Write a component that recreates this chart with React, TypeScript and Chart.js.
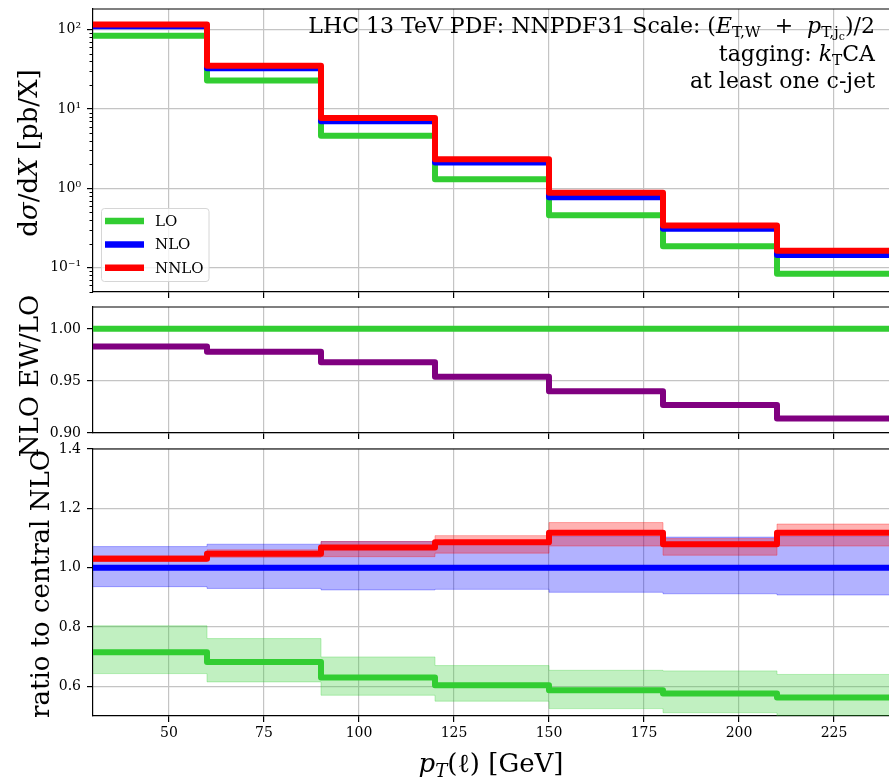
import React, { useEffect, useRef } from 'react';
import { Chart, registerables } from 'chart.js';

Chart.register(...registerables);

// ---------------- data ----------------
const binEdges = [30, 60, 90, 120, 150, 180, 210, 240];
const xTickValues = [50, 75, 100, 125, 150, 175, 200, 225];

// top panel: dsigma/dX [pb/X]
const xsecLO = [84, 22.8, 4.6, 1.3, 0.457, 0.186, 0.084];
const xsecNLO = [110, 32.5, 7.0, 2.12, 0.77, 0.31, 0.145];
const xsecNNLO = [116, 35.1, 7.7, 2.32, 0.88, 0.341, 0.164];
const logMajorTicks = [0.1, 1, 10, 100];
const logTickLabels = ['10⁻¹', '10⁰', '10¹', '10²'];
const logDecades = [0.01, 0.1, 1, 10, 100];
const logMinorMultipliers = [2, 3, 4, 5, 6, 7, 8, 9];

// middle panel: NLO EW / LO
const ewLO = [1, 1, 1, 1, 1, 1, 1];
const ewNLO = [0.983, 0.978, 0.968, 0.954, 0.94, 0.927, 0.914];
const ewTicks = [0.9, 0.95, 1.0];
const ewTickLabels = ['0.90', '0.95', '1.00'];

// bottom panel: ratio to central NLO
const ratioLO = [0.715, 0.682, 0.63, 0.604, 0.587, 0.576, 0.562];
const ratioLOUp = [0.804, 0.761, 0.699, 0.67, 0.654, 0.652, 0.64];
const ratioLODown = [0.643, 0.615, 0.57, 0.55, 0.525, 0.511, 0.49];
const ratioNLO = [1, 1, 1, 1, 1, 1, 1];
const ratioNLOUp = [1.071, 1.079, 1.088, 1.09, 1.105, 1.103, 1.105];
const ratioNLODown = [0.936, 0.93, 0.925, 0.927, 0.917, 0.912, 0.908];
const ratioNNLO = [1.03, 1.047, 1.068, 1.086, 1.118, 1.079, 1.118];
const ratioNNLOUp = [1.04, 1.06, 1.088, 1.108, 1.152, 1.098, 1.147];
const ratioNNLODown = [1.022, 1.035, 1.037, 1.049, 1.073, 1.042, 1.073];
const ratioTicks = [0.6, 0.8, 1.0, 1.2, 1.4];
const ratioTickLabels = ['0.6', '0.8', '1.0', '1.2', '1.4'];

const seriesNames = ['LO', 'NLO', 'NNLO'];

// ---------------- style ----------------
const FONT = '"DejaVu Serif", serif';
const GREEN = '#32cd32';
const BLUE = '#0000ff';
const RED = '#ff0000';
const PURPLE = '#800080';
const GRID = '#c4c4c4';
const CANVAS_W = 900;
const CANVAS_H = 780;
const Y_AXIS_W = 93;
const PAD_RIGHT = 9;

type Seg = { t: string; it?: boolean; sub?: number };

const annotationLines: Seg[][] = [
  [
    { t: 'LHC 13 TeV PDF: NNPDF31 Scale: (' },
    { t: 'E', it: true },
    { t: 'T,W', sub: 1 },
    { t: '  +  ' },
    { t: 'p', it: true },
    { t: 'T,j', sub: 1 },
    { t: 'c', sub: 2 },
    { t: ')/2' },
  ],
  [{ t: 'tagging: ' }, { t: 'k', it: true }, { t: 'T', sub: 1 }, { t: 'CA' }],
  [{ t: 'at least one c-jet' }],
];
const topYTitle: Seg[] = [
  { t: 'd' },
  { t: 'σ', it: true },
  { t: '/d' },
  { t: 'X', it: true },
  { t: ' [pb/X]' },
];
const midYTitle: Seg[] = [{ t: 'NLO EW/LO' }];
const botYTitle: Seg[] = [{ t: 'ratio to central NLO' }];
const xTitle: Seg[] = [
  { t: 'p', it: true },
  { t: 'T', it: true, sub: 1 },
  { t: '(ℓ) [GeV]' },
];

function stepPoints(values: number[]) {
  return binEdges.map((x, i) => ({ x, y: values[Math.min(i, values.length - 1)] }));
}

function drawRich(ctx: CanvasRenderingContext2D, segs: Seg[], x: number, y: number, size: number, align: string) {
  const fontFor = (s: Seg) =>
    `${s.it ? 'italic ' : ''}${size * (s.sub === 1 ? 0.7 : s.sub === 2 ? 0.5 : 1)}px ${FONT}`;
  let total = 0;
  const widths = segs.map((s) => {
    ctx.font = fontFor(s);
    const w = ctx.measureText(s.t).width;
    total += w;
    return w;
  });
  let cx = align === 'right' ? x - total : align === 'center' ? x - total / 2 : x;
  ctx.textAlign = 'left';
  ctx.textBaseline = 'alphabetic';
  segs.forEach((s, i) => {
    ctx.font = fontFor(s);
    const dy = s.sub === 1 ? 0.2 * size : s.sub === 2 ? 0.34 * size : 0;
    ctx.fillText(s.t, cx, y + dy);
    cx += widths[i];
  });
}

const decorPlugin = {
  id: 'panelDecor',
  afterDraw(chart: any, _args: any, opts: any) {
    const { ctx, chartArea: a } = chart;
    ctx.save();
    ctx.strokeStyle = '#000';
    ctx.lineWidth = 1.2;
    ctx.beginPath();
    ctx.moveTo(a.left, a.top);
    ctx.lineTo(a.right, a.top);
    ctx.lineTo(a.right, a.bottom);
    ctx.stroke();

    if (opts.minorTicks) {
      const ys = chart.scales.y;
      ctx.lineWidth = 1;
      opts.minorTicks.forEach((v: number) => {
        const p = Math.round(ys.getPixelForValue(v)) + 0.5;
        ctx.beginPath();
        ctx.moveTo(a.left - 3.5, p);
        ctx.lineTo(a.left, p);
        ctx.stroke();
      });
    }

    ctx.fillStyle = '#000';
    if (opts.yTitle) {
      ctx.save();
      ctx.translate(opts.yTitleX, opts.yTitleY);
      ctx.rotate(-Math.PI / 2);
      drawRich(ctx, opts.yTitle, 0, 0, 26, 'center');
      ctx.restore();
    }
    if (opts.annotation) {
      opts.annotation.forEach((line: Seg[], i: number) => {
        drawRich(ctx, line, 875, [33, 61, 88][i], 22, 'right');
      });
    }
    if (opts.legend) {
      const ds = chart.data.datasets;
      const bx = 101.5, by = 208.5, bw = 107.5, bh = 73, r = 3;
      ctx.beginPath();
      ctx.moveTo(bx + r, by);
      ctx.arcTo(bx + bw, by, bx + bw, by + bh, r);
      ctx.arcTo(bx + bw, by + bh, bx, by + bh, r);
      ctx.arcTo(bx, by + bh, bx, by, r);
      ctx.arcTo(bx, by, bx + bw, by, r);
      ctx.closePath();
      ctx.fillStyle = 'rgba(255,255,255,0.8)';
      ctx.fill();
      ctx.strokeStyle = '#d6d6d6';
      ctx.lineWidth = 1;
      ctx.stroke();
      seriesNames.forEach((name, i) => {
        const d = ds.find((q: any) => q.label === name);
        const y = 221 + i * 23.4;
        ctx.strokeStyle = d.borderColor;
        ctx.lineWidth = 6.5;
        ctx.beginPath();
        ctx.moveTo(105, y);
        ctx.lineTo(144, y);
        ctx.stroke();
        ctx.fillStyle = '#000';
        ctx.font = `15px ${FONT}`;
        ctx.textAlign = 'left';
        ctx.textBaseline = 'middle';
        ctx.fillText(name, 155, y + 1);
      });
    }
    if (opts.xTitle) {
      ctx.fillStyle = '#000';
      drawRich(ctx, opts.xTitle, 491, 772, 26, 'center');
    }
    ctx.restore();
  },
};

function xAxis(showLabels: boolean, height: number) {
  return {
    type: 'linear',
    min: binEdges[0],
    max: binEdges[binEdges.length - 1],
    afterBuildTicks: (s: any) => {
      s.ticks = xTickValues.map((v) => ({ value: v }));
    },
    afterFit: (s: any) => {
      s.height = height;
      s.paddingLeft = 0;
      s.paddingRight = 0;
    },
    grid: { color: GRID, lineWidth: 1.2, tickColor: '#000', tickLength: 6, tickWidth: 1.2 },
    border: { color: '#000', width: 1.2 },
    ticks: {
      display: showLabels,
      color: '#000',
      font: { size: 14, family: FONT },
      padding: 3,
      maxRotation: 0,
      autoSkip: false,
      callback: (v: number) => String(v),
    },
  };
}

function yAxis(type: string, min: number, max: number, ticks: number[], labels: string[]) {
  return {
    type,
    min,
    max,
    afterBuildTicks: (s: any) => {
      s.ticks = ticks.map((v) => ({ value: v }));
    },
    afterFit: (s: any) => {
      s.width = Y_AXIS_W;
      s.paddingTop = 0;
      s.paddingBottom = 0;
    },
    grid: { color: GRID, lineWidth: 1.2, tickColor: '#000', tickLength: 6, tickWidth: 1.2 },
    border: { color: '#000', width: 1.2 },
    ticks: {
      color: '#000',
      font: { size: 14, family: FONT },
      padding: 6,
      autoSkip: false,
      callback: (v: number) => {
        const i = ticks.findIndex((t) => Math.abs(t - v) < 1e-6 * Math.abs(t));
        return i >= 0 ? labels[i] : '';
      },
    },
  };
}

function line(label: string, values: number[], color: string, order: number, width = 6) {
  return {
    label,
    data: stepPoints(values),
    borderColor: color,
    backgroundColor: color,
    borderWidth: width,
    borderJoinStyle: 'round',
    stepped: true,
    pointRadius: 0,
    fill: false,
    order,
    clip: 0,
  };
}

function band(label: string, values: number[], rgb: string, order: number, fillTo: string | boolean) {
  return {
    label,
    data: stepPoints(values),
    borderColor: `rgba(${rgb},0.3)`,
    backgroundColor: `rgba(${rgb},0.3)`,
    borderWidth: 1,
    stepped: true,
    pointRadius: 0,
    fill: fillTo,
    order,
    clip: 0,
  };
}

function baseOptions(padTop: number, padBottom: number) {
  return {
    responsive: false,
    maintainAspectRatio: false,
    animation: false,
    events: [],
    layout: { padding: { left: 0, right: PAD_RIGHT, top: padTop, bottom: padBottom } },
  };
}

function topConfig(): any {
  const minor: number[] = [];
  logDecades.forEach((d) => logMinorMultipliers.forEach((m) => minor.push(d * m)));
  const yMin = 0.0494;
  const yMax = 182;
  return {
    type: 'line',
    data: {
      datasets: [
        line('LO', xsecLO, GREEN, 2),
        line('NLO', xsecNLO, BLUE, 1),
        line('NNLO', xsecNNLO, RED, 0),
      ],
    },
    options: {
      ...baseOptions(9, CANVAS_H - 292 - 8),
      scales: {
        x: xAxis(false, 8),
        y: yAxis('logarithmic', yMin, yMax, logMajorTicks, logTickLabels),
      },
      plugins: {
        legend: { display: false },
        tooltip: { enabled: false },
        panelDecor: {
          minorTicks: minor.filter((v) => v >= yMin && v <= yMax),
          yTitle: topYTitle,
          yTitleX: 37,
          yTitleY: 153,
          annotation: annotationLines,
          legend: true,
        },
      },
    },
    plugins: [decorPlugin],
  };
}

function midConfig(): any {
  return {
    type: 'line',
    data: {
      datasets: [line('LO', ewLO, GREEN, 1), line('NLO EW', ewNLO, PURPLE, 0)],
    },
    options: {
      ...baseOptions(307, CANVAS_H - 433 - 8),
      scales: {
        x: xAxis(false, 8),
        y: yAxis('linear', 0.9, 1.021, ewTicks, ewTickLabels),
      },
      plugins: {
        legend: { display: false },
        tooltip: { enabled: false },
        panelDecor: { yTitle: midYTitle, yTitleX: 38, yTitleY: 376 },
      },
    },
    plugins: [decorPlugin],
  };
}

function botConfig(): any {
  return {
    type: 'line',
    data: {
      datasets: [
        band('LO up', ratioLOUp, '50,205,50', 5, '+1'),
        band('LO down', ratioLODown, '50,205,50', 5, false),
        band('NLO up', ratioNLOUp, '0,0,255', 4, '+1'),
        band('NLO down', ratioNLODown, '0,0,255', 4, false),
        band('NNLO up', ratioNNLOUp, '255,0,0', 3, '+1'),
        band('NNLO down', ratioNNLODown, '255,0,0', 3, false),
        line('LO', ratioLO, GREEN, 2),
        line('NLO', ratioNLO, BLUE, 1),
        line('NNLO', ratioNNLO, RED, 0),
      ],
    },
    options: {
      ...baseOptions(449, 0),
      scales: {
        x: xAxis(true, CANVAS_H - 716),
        y: yAxis('linear', 0.5, 1.4, ratioTicks, ratioTickLabels),
      },
      plugins: {
        legend: { display: false },
        tooltip: { enabled: false },
        panelDecor: { yTitle: botYTitle, yTitleX: 49, yTitleY: 584, xTitle },
      },
    },
    plugins: [decorPlugin],
  };
}

export default function App() {
  const topRef = useRef<HTMLCanvasElement>(null);
  const midRef = useRef<HTMLCanvasElement>(null);
  const botRef = useRef<HTMLCanvasElement>(null);

  useEffect(() => {
    Chart.defaults.font.family = FONT;
    const charts = [
      new Chart(topRef.current as HTMLCanvasElement, topConfig()),
      new Chart(midRef.current as HTMLCanvasElement, midConfig()),
      new Chart(botRef.current as HTMLCanvasElement, botConfig()),
    ];
    return () => charts.forEach((c) => c.destroy());
  }, []);

  const cs: React.CSSProperties = { position: 'absolute', left: 0, top: 0 };
  return (
    <div
      style={{
        position: 'absolute',
        left: 0,
        top: 0,
        width: 889,
        height: 780,
        overflow: 'hidden',
        background: '#fff',
      }}
    >
      <canvas ref={botRef} width={CANVAS_W} height={CANVAS_H} style={cs} />
      <canvas ref={midRef} width={CANVAS_W} height={CANVAS_H} style={cs} />
      <canvas ref={topRef} width={CANVAS_W} height={CANVAS_H} style={cs} />
    </div>
  );
}
